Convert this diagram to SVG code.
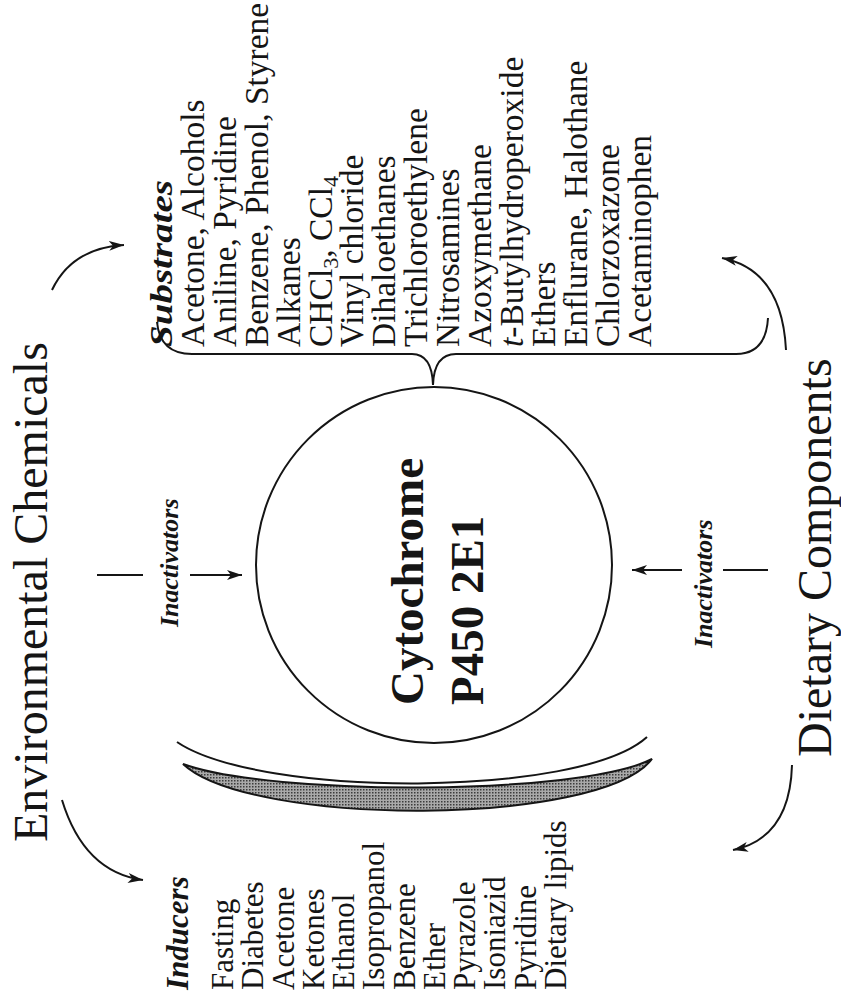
<svg xmlns="http://www.w3.org/2000/svg" width="841" height="1000" viewBox="0 0 841 1000">
<defs>
<style>
.t{font-family:"Liberation Serif","Times New Roman",serif;fill:#151515}
.big{font-size:48px}
.lst{font-size:33.5px}
.ind{font-size:31px}
.hd{font-weight:bold;font-style:italic}
.core{font-weight:bold;font-size:47px}
.ln{fill:none;stroke:#151515;stroke-width:2}
</style>
<marker id="ah" markerUnits="userSpaceOnUse" markerWidth="16" markerHeight="10" refX="15" refY="5" orient="auto">
<path d="M0,0 L15,5 L0,10 L4,5 z" fill="#151515"/>
</marker>
<pattern id="stip" width="3" height="3" patternUnits="userSpaceOnUse">
<rect width="3" height="3" fill="#a9a9a9"/>
<rect width="1.5" height="1.5" fill="#3c3c3c"/>
</pattern>
</defs>
<rect width="841" height="1000" fill="#ffffff"/>

<g id="title-env">
<text class="t big" transform="translate(47,842) rotate(-90)">Environmental Chemicals</text>
</g>
<g id="title-diet">
<text class="t big" transform="translate(831,757) rotate(-90)">Dietary Components</text>
</g>

<g id="cyp2e1">
<circle cx="434" cy="565" r="178" class="ln"/>
<text class="t core" transform="translate(423,705) rotate(-90)">Cytochrome</text>
<text class="t core" transform="translate(483,705) rotate(-90)">P450 2E1</text>
</g>

<g id="substrates">
<text class="t ind hd" transform="translate(172,347) rotate(-90)" textLength="167" lengthAdjust="spacingAndGlyphs">Substrates</text>
<g class="t lst">
<text transform="translate(204,347) rotate(-90)">Acetone, Alcohols</text>
<text transform="translate(236,347) rotate(-90)">Aniline, Pyridine</text>
<text transform="translate(268,347) rotate(-90)">Benzene, Phenol, Styrene</text>
<text transform="translate(300,347) rotate(-90)">Alkanes</text>
<text transform="translate(332,347) rotate(-90)">CHCl<tspan font-size="22" dy="6">3</tspan><tspan dy="-6">, CCl</tspan><tspan font-size="22" dy="6">4</tspan></text>
<text transform="translate(363,347) rotate(-90)">Vinyl chloride</text>
<text transform="translate(395,347) rotate(-90)">Dihaloethanes</text>
<text transform="translate(427,347) rotate(-90)">Trichloroethylene</text>
<text transform="translate(459,347) rotate(-90)">Nitrosamines</text>
<text transform="translate(491,347) rotate(-90)">Azoxymethane</text>
<text transform="translate(523,347) rotate(-90)"><tspan font-style="italic">t</tspan>-Butylhydroperoxide</text>
<text transform="translate(555,347) rotate(-90)">Ethers</text>
<text transform="translate(587,347) rotate(-90)">Enflurane, Halothane</text>
<text transform="translate(619,347) rotate(-90)">Chlorzoxazone</text>
<text transform="translate(651,347) rotate(-90)">Acetaminophen</text>
</g>
</g>

<g id="inducers">
<text class="t ind hd" transform="translate(188,990) rotate(-90)">Inducers</text>
<g class="t ind">
<text transform="translate(233,990) rotate(-90)">Fasting</text>
<text transform="translate(263,990) rotate(-90)">Diabetes</text>
<text transform="translate(294,990) rotate(-90)">Acetone</text>
<text transform="translate(324,990) rotate(-90)">Ketones</text>
<text transform="translate(354,990) rotate(-90)">Ethanol</text>
<text transform="translate(384,990) rotate(-90)">Isopropanol</text>
<text transform="translate(415,990) rotate(-90)">Benzene</text>
<text transform="translate(445,990) rotate(-90)">Ether</text>
<text transform="translate(475,990) rotate(-90)">Pyrazole</text>
<text transform="translate(505,990) rotate(-90)">Isoniazid</text>
<text transform="translate(536,990) rotate(-90)">Pyridine</text>
<text transform="translate(566,990) rotate(-90)">Dietary lipids</text>
</g>
</g>

<g id="inactivators-env">
<text class="t hd" font-size="26" transform="translate(178,627) rotate(-90)">Inactivators</text>
</g>
<g id="inactivators-diet">
<text class="t hd" font-size="26" transform="translate(712,648) rotate(-90)">Inactivators</text>
</g>

<g id="membrane">
<path d="M183 764 C 270 796, 580 796, 652 759 C 600 827, 250 827, 183 764 Z" fill="url(#stip)" stroke="#151515" stroke-width="2"/>
</g>

<g id="connectors">
<path class="ln" d="M177 742 C 260 798, 580 798, 647 737"/>
<path class="ln" d="M157 322 Q 160 354 192 354 L 412 354 Q 432 354 433 385 Q 434 354 456 354 L 736 354 Q 766 354 768 318"/>
<path class="ln" d="M52 290 Q 72 248 124 245" marker-end="url(#ah)"/>
<path class="ln" d="M62 800 Q 84 872 143 880" marker-end="url(#ah)"/>
<path class="ln" d="M786 350 Q 782 270 722 258" marker-end="url(#ah)"/>
<path class="ln" d="M792 765 Q 790 838 733 850" marker-end="url(#ah)"/>
<line class="ln" x1="97" y1="575" x2="143" y2="575"/>
<line class="ln" x1="190" y1="575" x2="242" y2="575" marker-end="url(#ah)"/>
<line class="ln" x1="768" y1="570" x2="723" y2="570"/>
<line class="ln" x1="682" y1="570" x2="632" y2="570" marker-end="url(#ah)"/>
</g>
</svg>
